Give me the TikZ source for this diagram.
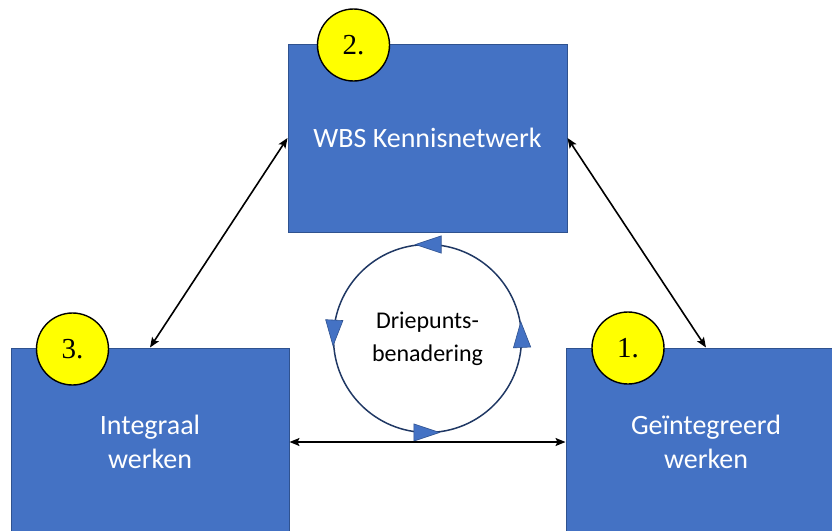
\documentclass[tikz,border=0pt]{standalone}
\usepackage{fontspec}
\setmainfont{Carlito}
\newfontfamily\numfont{Liberation Serif}
\usetikzlibrary{arrows.meta,decorations.markings}

\definecolor{boxblue}{HTML}{4472C4}
\definecolor{boxedge}{HTML}{2F528F}
\definecolor{cyclenavy}{HTML}{203864}
\definecolor{badgeyellow}{HTML}{FFFF00}

\tikzset{
  block/.style={draw=boxedge, line width=1pt, fill=boxblue, text=white,
    align=center, inner sep=0pt,
    font=\fontsize{28}{34}\selectfont},
  badge/.style={circle, draw=black, line width=1.4pt, fill=badgeyellow,
    minimum size=72pt, inner sep=0pt, font=\numfont\fontsize{29}{32}\selectfont},
  link/.style={line width=1.6pt, black,
    {Stealth[length=10pt,width=8pt,inset=2pt]}-{Stealth[length=10pt,width=8pt,inset=2pt]}},
  cycletip/.tip={Triangle[length=27pt,width=18pt,line width=0.6pt,fill=boxblue,color=boxedge]},
}

\begin{document}
\begin{tikzpicture}[x=1pt,y=-1pt]
  \useasboundingbox (0,0) rectangle (832,530);

  % the three blocks
  \node[block, minimum width=279pt, minimum height=188pt] (kennis) at (427.5,138) {WBS Kennisnetwerk};
  \node[block, minimum width=278pt, minimum height=188pt] (integraal) at (150,442) {Integraal\\werken};
  \node[block, minimum width=280pt, minimum height=188pt] (geint) at (706,442) {Geïntegreerd\\werken};

  % cycle in the middle
  \coordinate (cc) at (427.5,338.5);
  \draw[cyclenavy, line width=1.5pt,
    postaction={decorate, decoration={markings,
      mark=at position 0.008 with {\arrow[xshift=13pt]{cycletip}},
      mark=at position 0.25 with {\arrow[xshift=13pt]{cycletip}},
      mark=at position 0.492 with {\arrow[xshift=13pt]{cycletip}},
      mark=at position 0.75 with {\arrow[xshift=13pt]{cycletip}}}}]
    (cc) ++(94,0) arc[start angle=0, end angle=-360, radius=94];
  \node[align=center, font=\fontsize{24}{33}\selectfont] (drie) at (cc) {Driepunts-\\benadering};

  % connectors
  \draw[link] (kennis.west) -- (integraal.north);
  \draw[link] (kennis.east) -- (geint.north);
  \draw[link] (integraal.east) -- (geint.west);

  % numbered badges
  \node[badge] (n2) at (353.5,45) {2.};
  \node[badge] (n3) at (72.5,349) {3.};
  \node[badge] (n1) at (628,348) {1.};
\end{tikzpicture}
\end{document}
